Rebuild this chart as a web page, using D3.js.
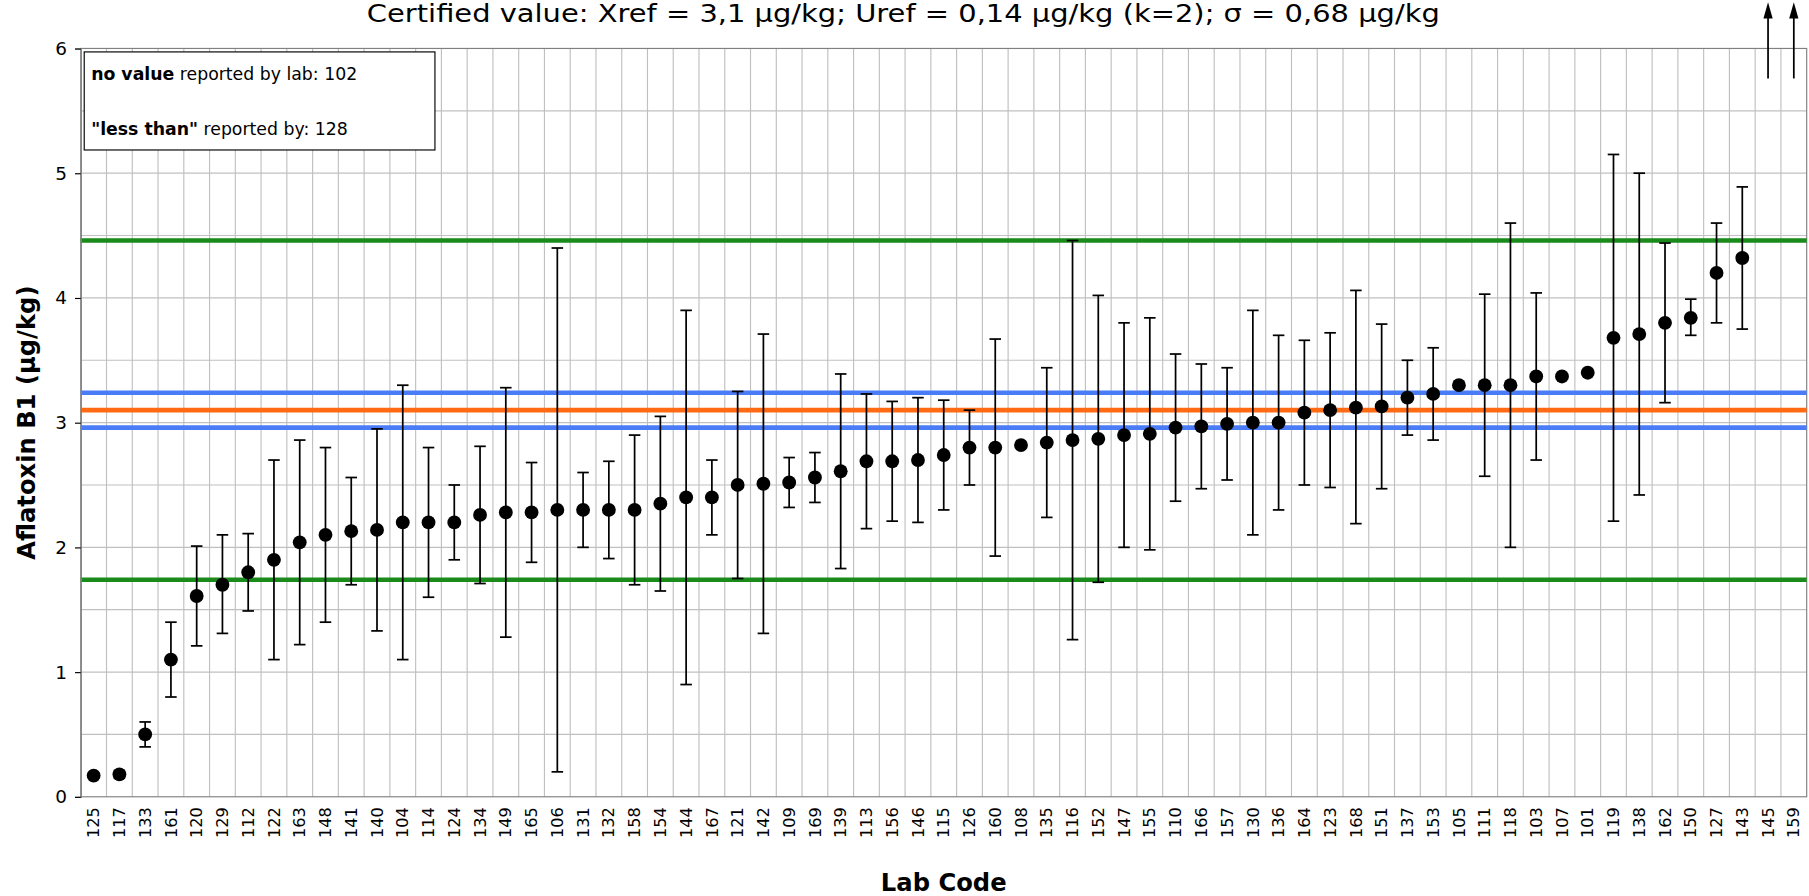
<!DOCTYPE html>
<html><head><meta charset="utf-8">
<script src="https://cdn.jsdelivr.net/npm/d3@7"></script>
<style>body{margin:0;background:#fff}text{font-family:"DejaVu Sans",Verdana,sans-serif}</style>
</head><body><svg></svg>
<script>
var labs = ["125","117","133","161","120","129","112","122","163","148","141","140","104","114","124","134","149","165","106","131","132","158","154","144","167","121","142","109","169","139","113","156","146","115","126","160","108","135","116","152","147","155","110","166","157","130","136","164","123","168","151","137","153","105","111","118","103","107","101","119","138","162","150","127","143","145","159"];
var values = [0.17,0.18,0.5,1.1,1.61,1.7,1.8,1.9,2.04,2.1,2.13,2.14,2.2,2.2,2.2,2.26,2.28,2.28,2.3,2.3,2.3,2.3,2.35,2.4,2.4,2.5,2.51,2.52,2.56,2.61,2.69,2.69,2.7,2.74,2.8,2.8,2.82,2.84,2.86,2.87,2.9,2.91,2.96,2.97,2.99,3.0,3.0,3.08,3.1,3.12,3.13,3.2,3.23,3.3,3.3,3.3,3.37,3.37,3.4,3.68,3.71,3.8,3.84,4.2,4.32,null,null];
var lows = [0.15,0.15,0.4,0.8,1.21,1.31,1.49,1.1,1.22,1.4,1.7,1.33,1.1,1.6,1.9,1.71,1.28,1.88,0.2,2.0,1.91,1.7,1.65,0.9,2.1,1.75,1.31,2.32,2.36,1.83,2.15,2.21,2.2,2.3,2.5,1.93,null,2.24,1.26,1.72,2.0,1.98,2.37,2.47,2.54,2.1,2.3,2.5,2.48,2.19,2.47,2.9,2.86,null,2.57,2.0,2.7,null,null,2.21,2.42,3.16,3.7,3.8,3.75,null,null];
var highs = [0.19,0.21,0.6,1.4,2.01,2.1,2.11,2.7,2.86,2.8,2.56,2.95,3.3,2.8,2.5,2.81,3.28,2.68,4.4,2.6,2.69,2.9,3.05,3.9,2.7,3.25,3.71,2.72,2.76,3.39,3.23,3.17,3.2,3.18,3.1,3.67,null,3.44,4.46,4.02,3.8,3.84,3.55,3.47,3.44,3.9,3.7,3.66,3.72,4.06,3.79,3.5,3.6,null,4.03,4.6,4.04,null,null,5.15,5.0,4.44,3.99,4.6,4.89,null,null];
var offScale = ["145","159"];
var xref = 3.1, uLow = 2.96, uHigh = 3.24, zLow = 1.74, zHigh = 4.46;

var W = 1809, H = 896;
var k = W / 1568;
var m = {left:70, right:2, top:42, bottom:86};
var VW = 1568, VH = H / k;
var svg = d3.select("svg").attr("width", W).attr("height", H);
var root = svg.append("g").attr("transform", "scale(" + k + ")");
var x = d3.scaleBand().domain(labs).range([m.left, VW - m.right]);
var y = d3.scaleLinear().domain([0, 6]).range([VH - m.bottom, m.top]);
var pw = VW - m.right - m.left;

root.append("text").attr("x", 783).attr("y", 19).attr("text-anchor", "middle").attr("font-size", 22)
  .attr("textLength", 930).attr("lengthAdjust", "spacingAndGlyphs")
  .text("Certified value: Xref = 3,1 µg/kg; Uref = 0,14 µg/kg (k=2); σ = 0,68 µg/kg");

var g = root.append("g");
// grid
g.selectAll(".hg").data(d3.range(0.5, 6, 0.5)).enter().append("line")
  .attr("x1", m.left).attr("x2", m.left + pw).attr("y1", d => y(d)).attr("y2", d => y(d))
  .attr("stroke", "#c0c0c0").attr("stroke-width", 1);
g.selectAll(".vg").data(labs.slice(1)).enter().append("line")
  .attr("x1", d => x(d)).attr("x2", d => x(d)).attr("y1", y(0)).attr("y2", y(6))
  .attr("stroke", "#c0c0c0").attr("stroke-width", 1);
g.append("rect").attr("x", m.left).attr("y", y(6)).attr("width", pw).attr("height", y(0) - y(6))
  .attr("fill", "none").attr("stroke", "#808080");

// reference lines
[[zLow,"#1a8a1a"],[zHigh,"#1a8a1a"],[uLow,"#4a7cf7"],[uHigh,"#4a7cf7"],[xref,"#ff6a13"]].forEach(function(r){
  g.append("line").attr("x1", m.left).attr("x2", m.left + pw).attr("y1", y(r[0])).attr("y2", y(r[0]))
    .attr("stroke", r[1]).attr("stroke-width", 4);
});

var bw = x.bandwidth();
var pts = labs.map((l,i) => ({lab:l, v:values[i], lo:lows[i], hi:highs[i]}));
var eb = g.selectAll(".eb").data(pts.filter(d => d.lo != null)).enter().append("g")
  .attr("stroke", "#000").attr("stroke-width", 1.5);
eb.append("line").attr("x1", d => x(d.lab)+bw/2).attr("x2", d => x(d.lab)+bw/2)
  .attr("y1", d => y(d.lo)).attr("y2", d => y(d.hi));
eb.append("line").attr("x1", d => x(d.lab)+bw/2-5).attr("x2", d => x(d.lab)+bw/2+5)
  .attr("y1", d => y(d.lo)).attr("y2", d => y(d.lo));
eb.append("line").attr("x1", d => x(d.lab)+bw/2-5).attr("x2", d => x(d.lab)+bw/2+5)
  .attr("y1", d => y(d.hi)).attr("y2", d => y(d.hi));
g.selectAll(".pt").data(pts.filter(d => d.v != null)).enter().append("circle")
  .attr("cx", d => x(d.lab)+bw/2).attr("cy", d => y(d.v)).attr("r", 6).attr("fill", "#000");

// arrows for off-scale
offScale.forEach(function(l){
  var cx = x(l)+bw/2;
  root.append("line").attr("x1", cx).attr("x2", cx).attr("y1", 68).attr("y2", 10)
    .attr("stroke", "#000").attr("stroke-width", 1.5);
  root.append("path").attr("d", "M"+(cx-4)+",16 L"+cx+",2 L"+(cx+4)+",16 Z").attr("fill", "#000");
});

// axes
var ya = root.append("g").attr("transform", "translate(" + m.left + ",0)")
  .call(d3.axisLeft(y).ticks(6).tickSize(5).tickFormat(d3.format("d")));
ya.selectAll("text").attr("font-size", 16).attr("font-family", "DejaVu Sans").attr("dx", -4);
ya.select(".domain").attr("stroke", "#808080");
var xa = root.append("g").attr("transform", "translate(0," + y(0) + ")")
  .call(d3.axisBottom(x).tickSize(0));
xa.select(".domain").remove();
xa.selectAll("text").attr("font-size", 14).attr("font-family", "DejaVu Sans")
  .attr("transform", "rotate(-90)").attr("text-anchor", "end").attr("x", -9).attr("y", 0).attr("dy", "0.35em");

root.append("text").attr("x", m.left + pw/2).attr("y", 772).attr("text-anchor", "middle")
  .attr("font-size", 21).attr("font-weight", "bold").text("Lab Code");
root.append("text").attr("transform", "translate(30," + y(3) + ") rotate(-90)").attr("text-anchor", "middle")
  .attr("font-size", 21).attr("font-weight", "bold").text("Aflatoxin B1 (µg/kg)");

// legend box
var lb = root.append("g");
lb.append("rect").attr("x", 73).attr("y", 45).attr("width", 304).attr("height", 85)
  .attr("fill", "#fff").attr("stroke", "#000");
var t1 = lb.append("text").attr("x", 79).attr("y", 69).attr("font-size", 15);
t1.append("tspan").attr("font-weight", "bold").text("no value");
t1.append("tspan").text(" reported by lab: 102");
var t2 = lb.append("text").attr("x", 79).attr("y", 117).attr("font-size", 15);
t2.append("tspan").attr("font-weight", "bold").text("\"less than\"");
t2.append("tspan").text(" reported by: 128");
</script></body></html>
